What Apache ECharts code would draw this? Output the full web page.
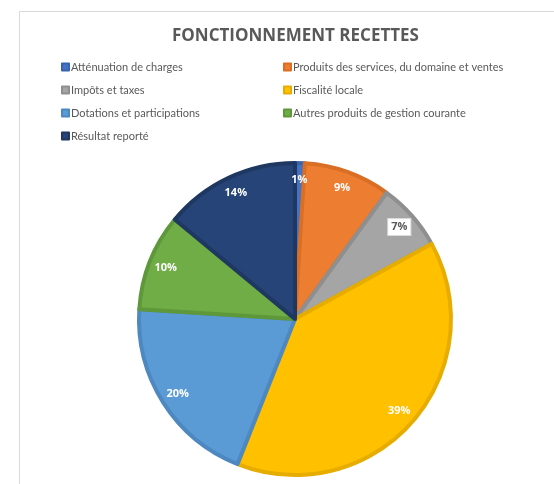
<!DOCTYPE html>
<html><head><meta charset="utf-8">
<script src="https://cdn.jsdelivr.net/npm/echarts@6/dist/echarts.min.js"></script>
<style>html,body{margin:0;padding:0;background:#fff}#c{width:554px;height:484px}</style>
</head><body><div id="c"></div>
<script>
const titleText = 'FONCTIONNEMENT RECETTES';
const categories = ['Atténuation de charges','Produits des services, du domaine et ventes','Impôts et taxes','Fiscalité locale','Dotations et participations','Autres produits de gestion courante','Résultat reporté'];
const values = [1, 9, 7, 39, 20, 10, 14];
const colors = ['#4472C4','#ED7D31','#A5A5A5','#FFC000','#5B9BD5','#70AD47','#264478'];
const borderColors = ['#3A63AE','#D96E25','#8F8F8F','#E6AD00','#4D88C0','#5E983A','#1E3861'];

const font = 'Lato, "Open Sans", sans-serif';
const center = [295, 319];
const R = 156;

const pieData = categories.map((n,i)=>({name:n, value:values[i], itemStyle:{color:colors[i], borderColor:borderColors[i]}}));
const labelData = categories.map((n,i)=>{
  const d = {name:n, value:values[i]};
  if (i === 2) d.label = {color:'#595959', backgroundColor:'#fff', padding:[3,3,2,3], borderColor:'#d9d9d9', borderWidth:1};
  return d;
});

const chart = echarts.init(document.getElementById('c'), null, {renderer:'canvas'});
chart.setOption({
  animation:false,
  color: colors,
  title:{text:titleText, left:167, top:23, textStyle:{fontFamily:'"Open Sans", sans-serif', fontSize:17, fontWeight:'bold', color:'#595959'}},
  graphic:[{type:'rect', shape:{x:19.5, y:11.5, width:700, height:700}, style:{fill:'none', stroke:'#d9d9d9', lineWidth:1}, silent:true, z:-10}],
  legend:[
    {data:[categories[0],categories[2],categories[4],categories[6]], orient:'vertical', left:61, top:60, padding:0, itemWidth:7, itemHeight:7, itemGap:9, icon:'rect',
     textStyle:{fontFamily:font, fontSize:11, color:'#595959', padding:[0,0,0,-3], lineHeight:14}},
    {data:[categories[1],categories[3],categories[5]], orient:'vertical', left:283, top:60, padding:0, itemWidth:7, itemHeight:7, itemGap:9, icon:'rect',
     textStyle:{fontFamily:font, fontSize:11, color:'#595959', padding:[0,0,0,-3], lineHeight:14}}
  ],
  series:[
    {type:'pie', center:center, radius:[0,R], startAngle:90, clockwise:true, data:pieData,
     itemStyle:{borderWidth:4}, label:{show:false}, labelLine:{show:false}, emphasis:{disabled:true}},
    {type:'pie', center:center, radius:[118,154], startAngle:90, clockwise:true, data:labelData, silent:true,
     itemStyle:{color:'rgba(0,0,0,0)', borderWidth:0}, emphasis:{disabled:true}, labelLine:{show:false},
     label:{show:true, position:'inside', formatter:'{d}%', fontFamily:'"Open Sans", sans-serif', fontSize:11, fontWeight:'bold', color:'#fff'}}
  ]
});
</script></body></html>
